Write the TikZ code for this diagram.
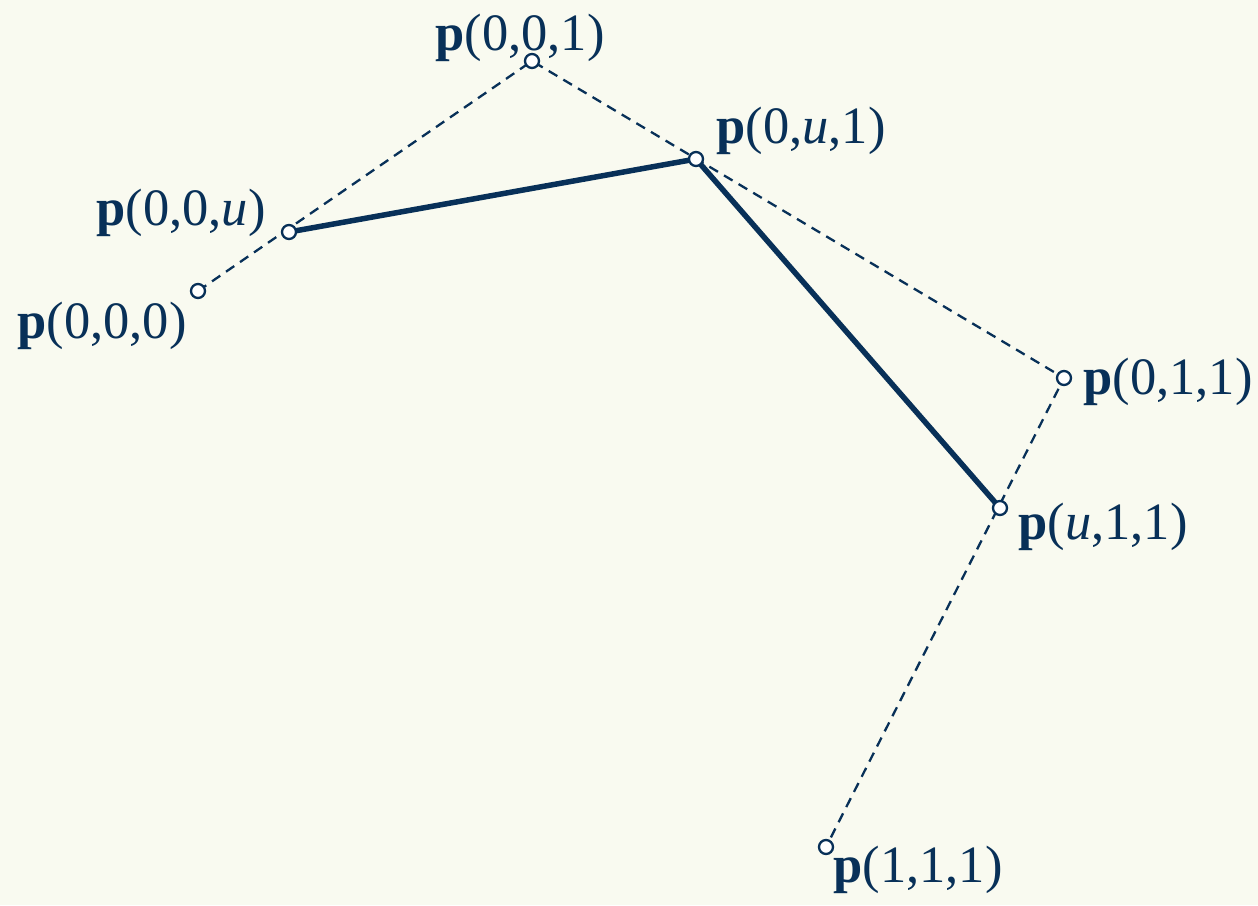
\documentclass[tikz,border=0pt]{standalone}
\usepackage{fontspec}
\setmainfont{Liberation Serif}
\definecolor{navy}{RGB}{8,48,88}
\definecolor{bgc}{RGB}{249,250,240}
\tikzset{
  pt/.style={circle,draw=navy,fill=white,line width=2.3pt,inner sep=0pt,minimum size=14pt},
  lbl/.style={text=navy,inner sep=0pt,font=\fontsize{52.5}{60}\selectfont},
  ctrl/.style={draw=navy,line width=2.3pt,dash pattern=on 10pt off 7pt},
  curve/.style={draw=navy,line width=5.5pt}
}
\begin{document}
\begin{tikzpicture}[x=1pt,y=-1pt]
\fill[bgc] (0,0) rectangle (1258,905);
\useasboundingbox (0,0) rectangle (1258,905);
\coordinate (c000) at (198,291);
\coordinate (c00u) at (289,232);
\coordinate (c001) at (532,61);
\coordinate (c0u1) at (696,159);
\coordinate (c011) at (1064,378);
\coordinate (cu11) at (1000,508);
\coordinate (c111) at (826,847);
\draw[ctrl] (c000) -- (c001) -- (c011) -- (c111);
\draw[curve] (c00u) -- (c0u1) -- (cu11);
\node[pt] (n000) at (c000) {};
\node[pt] (n00u) at (c00u) {};
\node[pt] (n001) at (c001) {};
\node[pt] (n0u1) at (c0u1) {};
\node[pt] (n011) at (c011) {};
\node[pt] (nu11) at (cu11) {};
\node[pt] (n111) at (c111) {};
\node[lbl] (l001) at (520,38) {\textbf{p}(0,0,1)};
\node[lbl] (l0u1) at (801,131) {\textbf{p}(0,\textit{u},1)};
\node[lbl] (l00u) at (181,213) {\textbf{p}(0,0,\textit{u})};
\node[lbl] (l000) at (102,326) {\textbf{p}(0,0,0)};
\node[lbl] (l011) at (1168,382) {\textbf{p}(0,1,1)};
\node[lbl] (lu11) at (1103,527) {\textbf{p}(\textit{u},1,1)};
\node[lbl] (l111) at (918,870) {\textbf{p}(1,1,1)};
\end{tikzpicture}
\end{document}
